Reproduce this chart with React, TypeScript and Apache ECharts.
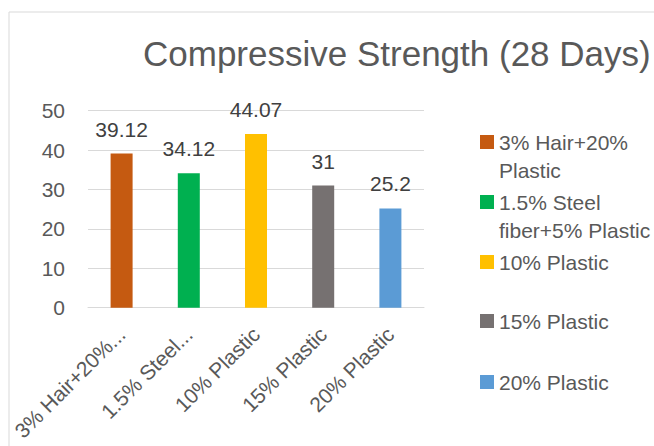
import React, { useEffect, useRef } from "react";
import * as echarts from "echarts";

const categories = [
  "3% Hair+20% Plastic",
  "1.5% Steel fiber+5% Plastic",
  "10% Plastic",
  "15% Plastic",
  "20% Plastic",
];
const tickLabels = ["3% Hair+20%...", "1.5% Steel...", "10% Plastic", "15% Plastic", "20% Plastic"];
const legendLabels = [
  "3% Hair+20%\nPlastic",
  "1.5% Steel\nfiber+5% Plastic",
  "10% Plastic",
  "15% Plastic",
  "20% Plastic",
];
const values = [39.12, 34.12, 44.07, 31, 25.2];
const colors = ["#C55A11", "#00B050", "#FFC000", "#767171", "#5B9BD5"];
const yTicks = [0, 10, 20, 30, 40, 50];

const FONT = "Liberation Sans";
const legendCenters = [142, 202, 262, 321, 382];

export default function App() {
  const ref = useRef<HTMLDivElement>(null);
  useEffect(() => {
    const chart = echarts.init(ref.current!, null, { renderer: "svg" });
    const LH = 28;
    const series = categories.map((name, i) => ({
      name,
      type: "bar",
      stack: "all",
      barWidth: 22,
      itemStyle: { color: colors[i] },
      data: values.map((v, j) => (j === i ? v : "-")),
      label: {
        show: true,
        position: "top",
        distance: 14,
        fontFamily: FONT,
        fontSize: 21,
        color: "#404040",
      },
    }));
    const legends = categories.map((name, i) => {
      const multi = legendLabels[i].includes("\n");
      return {
        data: [name],
        orient: "vertical",
        left: 480,
        top: legendCenters[i] - (multi ? 1.5 * LH : 0.5 * LH),
        padding: 0,
        itemWidth: 14,
        itemHeight: 14,
        itemGap: 0,
        icon: "rect",
        selectedMode: false,
        formatter: () => (multi ? " \n" + legendLabels[i] : legendLabels[i]),
        textStyle: {
          fontFamily: FONT,
          fontSize: 21,
          color: "#595959",
          lineHeight: LH,
        },
      };
    });
    chart.setOption({
      animation: false,
      textStyle: { fontFamily: FONT },
      title: {
        text: "Compressive Strength (28 Days)",
        left: 143,
        top: 36,
        padding: 0,
        textStyle: { fontFamily: FONT, fontSize: 35, fontWeight: "normal", color: "#595959" },
      },
      graphic: [
        {
          type: "rect",
          shape: { x: 9, y: 12, width: 800, height: 600 },
          style: { fill: "none", stroke: "#D9D9D9", lineWidth: 1 },
          silent: true,
          z: -10,
        },
      ],
      legend: legends,
      grid: { left: 88, right: 230, top: 110.7, bottom: 138.3, containLabel: false },
      xAxis: {
        type: "category",
        data: categories,
        axisLine: { show: true, lineStyle: { color: "#D9D9D9", width: 1 } },
        axisTick: { show: false },
        axisLabel: {
          interval: 0,
          rotate: 45,
          margin: 23,
          verticalAlign: "middle",
          fontFamily: FONT,
          fontSize: 21,
          color: "#595959",
          formatter: (_v: string, i: number) => tickLabels[i],
        },
      },
      yAxis: {
        type: "value",
        min: yTicks[0],
        max: yTicks[yTicks.length - 1],
        interval: 10,
        axisLine: { show: false },
        axisTick: { show: false },
        splitLine: { lineStyle: { color: "#D9D9D9", width: 1 } },
        axisLabel: { margin: 23, fontFamily: FONT, fontSize: 21, color: "#595959" },
      },
      series,
    });
    return () => chart.dispose();
  }, []);
  return (
    <div
      ref={ref}
      style={{ position: "fixed", left: 0, top: 0, width: 654, height: 446, background: "#fff" }}
    />
  );
}
